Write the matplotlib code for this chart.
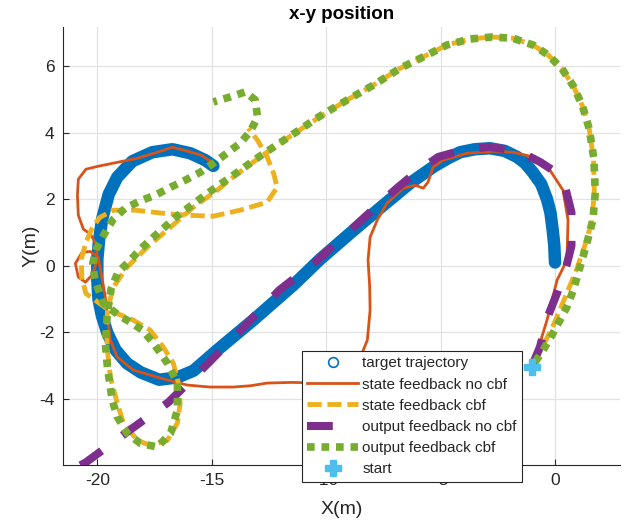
import matplotlib
matplotlib.use("Agg")
import matplotlib.pyplot as plt
from matplotlib.lines import Line2D

plt.rcParams['font.family'] = ['Liberation Sans', 'DejaVu Sans']
plt.rcParams['axes.unicode_minus'] = False

# ---- data (x, y) ----
target_x = [0.0, -0.03, -0.1, -0.2, -0.35, -0.6, -0.96, -1.3, -1.66, -2.2, -2.84, -3.5, -4.15, -4.7, -5.3,
            -6.3, -7.5, -8.95, -10.26, -11.44, -13.19, -14.76, -15.8, -16.5, -17.3, -18.1, -18.7,
            -19.2, -19.56, -19.8, -19.95, -20.0, -20.0, -19.92, -19.78, -19.5, -19.13, -18.47,
            -17.6, -16.72, -15.94, -15.28, -14.93]
target_y = [0.1, 0.6, 1.07, 1.6, 2.0, 2.45, 2.8, 3.08, 3.27, 3.45, 3.53, 3.5, 3.41, 3.22, 2.98,
            2.5, 1.82, 0.98, 0.2, -0.58, -1.63, -2.53, -3.15, -3.35, -3.42, -3.2, -2.93,
            -2.53, -2.02, -1.5, -1.0, -0.43, 0.2, 0.8, 1.43, 2.15, 2.66, 3.14,
            3.41, 3.5, 3.38, 3.17, 3.0]

sf_nocbf_x = [-1.0, -0.65, -0.35, 0.09, 0.52, 0.57, 0.35, -0.22, -0.96, -1.83, -2.7, -3.84, -4.9, -5.33,
              -5.55, -5.76, -6.11, -6.64, -7.34, -7.77, -8.08, -8.17, -8.1, -8.08, -8.2, -8.43, -8.9,
              -9.6, -10.26, -11.5, -12.58, -13.3, -14.06, -15.07, -16.07, -17.25, -18.43, -19.13,
              -19.43, -19.56, -19.65, -19.78, -19.96, -20.3, -20.66, -20.96, -20.83, -20.52, -20.2,
              -20.0, -20.05, -20.3, -20.61, -20.83, -20.87, -20.83, -20.5, -19.96, -19.1, -18.25,
              -17.38, -16.72, -16.2, -15.46, -14.93]
sf_nocbf_y = [-3.0, -2.3, -1.63, -0.43, 0.17, 1.37, 2.27, 2.87, 3.27, 3.41, 3.44, 3.38, 3.17, 2.96,
              2.51, 2.33, 2.42, 2.33, 1.88, 1.37, 0.86, 0.17, -0.6, -1.33, -2.23, -2.62, -3.05,
              -3.35, -3.52, -3.5, -3.52, -3.6, -3.64, -3.64, -3.58, -3.37, -3.13, -2.74,
              -2.23, -1.54, -0.94, -0.43, 0.26, 0.43, 0.41, 0.07, -0.34, -0.49, -0.25,
              0.2, 0.65, 0.95, 1.1, 1.52, 2.12, 2.6, 2.9, 2.99, 3.11, 3.23,
              3.41, 3.56, 3.47, 3.32, 3.08]

sf_cbf_x = [-0.9, -0.45, -0.05, 0.5, 0.95, 1.3, 1.6, 1.72, 1.68, 1.5, 1.2, 0.8, 0.3, -0.3, -0.96, -1.83,
            -2.75, -3.71, -4.72, -5.59, -6.77, -7.95, -9.08, -10.26, -11.44, -12.88, -14.0, -14.76,
            -15.8, -16.8, -17.82, -18.7, -19.3, -19.55, -19.6, -19.56, -19.43, -19.13, -18.86,
            -18.25, -17.69, -16.94, -16.5, -16.38, -16.46, -16.68, -17.12, -17.69, -18.43, -19.5,
            -20.5, -20.68, -20.7, -20.5, -20.25, -19.9, -19.3, -18.34, -17.16, -16.16, -14.93,
            -13.76, -12.58, -12.14, -12.3, -12.58, -13.0, -13.4]
sf_cbf_y = [-2.9, -2.3, -1.75, -0.85, -0.1, 0.6, 1.3, 2.2, 3.2, 4.1, 4.8, 5.4, 5.92, 6.33, 6.63, 6.83,
            6.87, 6.81, 6.63, 6.33, 5.93, 5.42, 4.98, 4.48, 3.95, 3.27, 2.7, 2.27,
            1.76, 1.16, 0.56, -0.04, -0.64, -1.3, -1.84, -2.53, -3.34, -4.12, -4.72,
            -5.24, -5.39, -5.24, -4.72, -4.12, -3.52, -2.92, -2.44, -1.93, -1.63, -1.33,
            -0.83, -0.35, 0.2, 0.7, 1.1, 1.45, 1.67, 1.67, 1.58, 1.52, 1.49,
            1.67, 1.91, 2.36, 2.78, 3.27, 3.77, 4.13]

of_nocbf_x = [-0.96, -0.66, -0.3, 0.1, 0.5, 0.72, 0.72, 0.45, -0.05, -0.66, -1.6, -2.88, -4.0, -5.1,
              -6.0, -6.86, -7.7, -8.56, -9.5, -10.5, -12.05, -13.6, -15.28, -16.9, -18.78, -20.5, -21.3]
of_nocbf_y = [-2.93, -2.44, -1.5, -0.8, 0.0, 0.6, 1.6, 2.35, 2.85, 3.12, 3.45, 3.57, 3.48, 3.27,
              2.85, 2.36, 1.85, 1.31, 0.72, 0.1, -0.73, -1.84, -3.01, -4.1, -5.03, -5.9, -6.2]

of_cbf_x = [-0.87, -0.52, -0.13, 0.22, 0.52, 0.8, 1.09, 1.4, 1.66, 1.76, 1.7, 1.5, 1.2, 0.8, 0.3, -0.3,
            -0.96, -1.83, -2.75, -3.71, -4.72, -5.59, -6.77, -7.95, -9.08, -10.26, -11.5, -12.88,
            -14.0, -15.2, -16.5, -17.55, -18.12, -18.56, -19.1, -19.4, -19.56, -19.65, -19.56,
            -19.35, -19.13, -18.7, -18.12, -17.38, -16.8, -16.5, -16.5, -16.94, -17.55, -18.03,
            -18.56, -19.08, -19.74, -20.1, -20.2, -20.05, -19.65, -19.3, -18.78, -18.12, -17.47,
            -16.8, -16.16, -15.5, -14.93, -14.3, -13.76, -13.3, -13.0, -13.1, -13.54, -14.2, -14.93]
of_cbf_y = [-2.89, -2.53, -2.08, -1.63, -1.24, -0.73, -0.04, 0.7, 1.4, 2.2, 3.2, 4.1, 4.8, 5.4, 5.92, 6.33,
            6.63, 6.83, 6.87, 6.81, 6.63, 6.33, 5.93, 5.42, 4.98, 4.5, 3.93, 3.3,
            2.75, 2.17, 1.5, 0.86, 0.5, 0.17, -0.2, -0.7, -1.4, -2.32, -3.04,
            -4.03, -4.53, -5.03, -5.33, -5.44, -5.03, -4.33, -3.52, -2.92, -2.32, -1.93,
            -1.69, -1.48, -1.12, -0.43, 0.07, 0.5, 1.01, 1.4, 1.73, 1.95, 2.12,
            2.36, 2.57, 2.81, 3.08, 3.4, 3.68, 4.05, 4.47, 4.98, 5.22, 5.07, 4.92]

start_x = [-1.0]
start_y = [-3.03]

labels = ['target trajectory', 'state feedback no cbf', 'state feedback cbf',
          'output feedback no cbf', 'output feedback cbf', 'start']

c_blue = '#0072BD'
c_orange = '#D95319'
c_yellow = '#EDB120'
c_purple = '#7E2F8E'
c_green = '#77AC30'
c_cyan = '#4DBEEE'

fig = plt.figure(figsize=(6.39, 5.22), dpi=100)
ax = fig.add_axes([63/639, 57/522, (620-63)/639, (465-27)/522])

ax.plot(target_x, target_y, color=c_blue, lw=9.0, solid_capstyle='round', solid_joinstyle='round', zorder=2)
ax.plot(target_x, target_y, ls='none', marker='o', ms=5, mfc='none', mec=c_blue, mew=1.2, zorder=2)
ax.plot(sf_nocbf_x, sf_nocbf_y, color=c_orange, lw=2.0, zorder=3)
ax.plot(sf_cbf_x, sf_cbf_y, color=c_yellow, lw=3.5, ls=(0, (2.9, 1.2)), zorder=4)
ax.plot(of_nocbf_x, of_nocbf_y, color=c_purple, lw=5.8, ls=(0, (3.2, 3.2)), zorder=5)
ax.plot(of_cbf_x, of_cbf_y, color=c_green, lw=5.5, ls=(0, (1, 0.9)), zorder=6)
ax.plot(start_x, start_y, ls='none', marker='P', ms=11, color=c_cyan, zorder=7)

ax.set_xlim(-21.5, 2.84)
ax.set_ylim(-5.98, 7.17)
ax.set_xticks([-20, -15, -10, -5, 0])
ax.set_yticks([-4, -2, 0, 2, 4, 6])
ax.grid(True, color='#e2e2e2', lw=0.9)
ax.set_axisbelow(True)
for s in ['top', 'right']:
    ax.spines[s].set_visible(False)
for s in ['left', 'bottom']:
    ax.spines[s].set_color('#262626')
    ax.spines[s].set_linewidth(0.8)
ax.tick_params(direction='in', length=4, width=0.8, colors='#262626', labelsize=12.5, pad=6)

ax.set_title('x-y position', fontsize=13.5, fontweight='bold', pad=6)
ax.set_xlabel('X(m)', fontsize=14, color='#262626', labelpad=9)
ax.set_ylabel('Y(m)', fontsize=14, color='#262626', labelpad=0)

handles = [
    Line2D([], [], ls='none', marker='o', ms=7, mfc='none', mec=c_blue, mew=1.2),
    Line2D([], [], color=c_orange, lw=2.0),
    Line2D([], [], color=c_yellow, lw=3.5, ls=(0, (2.9, 1.2))),
    Line2D([], [], color=c_purple, lw=5.8, ls=(0, (3.2, 3.2))),
    Line2D([], [], color=c_green, lw=5.5, ls=(0, (1, 0.9))),
    Line2D([], [], ls='none', marker='P', ms=11, color=c_cyan),
]
leg = fig.legend(handles, labels, loc='upper left', bbox_to_anchor=(302/639, 1 - 351/522),
                 bbox_transform=fig.transFigure, fontsize=11, frameon=True, fancybox=False,
                 edgecolor='#262626', framealpha=1, borderaxespad=0, borderpad=0.35,
                 handlelength=3.3, handletextpad=0.3, labelspacing=0.47)
leg.get_frame().set_linewidth(0.8)
leg.set_zorder(10)
for t in leg.get_texts():
    t.set_color('#262626')

fig.savefig('out.png', dpi=100)
